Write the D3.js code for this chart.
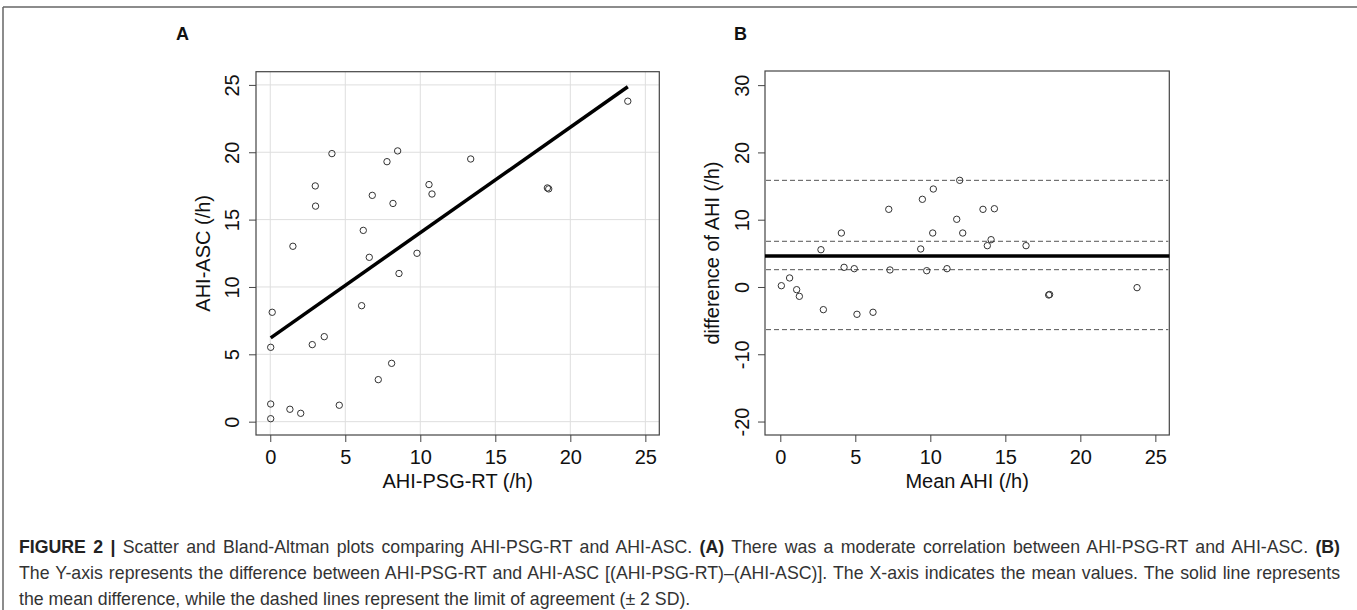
<!DOCTYPE html>
<html><head><meta charset="utf-8">
<script src="https://cdn.jsdelivr.net/npm/d3@7"></script>
<style>
html,body{margin:0;padding:0;background:#fff;}
svg text{font-family:"Liberation Sans",Arial,Helvetica,sans-serif;}
</style></head>
<body>
<svg id="fig" width="1357" height="610"></svg>
<script>
// ---------- Data ----------
// Panel A: AHI-PSG-RT (x) vs AHI-ASC (y)
const psgRT = [0.13,1.51,3.0,3.02,4.11,6.09,6.2,6.6,6.8,7.78,8.49,8.18,8.58,9.78,10.58,10.78,13.36,
               0.03,2.8,3.6,8.09,7.2,0.03,1.31,2.03,4.6,0.03,18.47,18.56,23.83];
const asc   = [8.12,13.02,17.5,16.0,19.9,8.61,14.2,12.2,16.8,19.3,20.1,16.2,11.0,12.5,17.6,16.9,19.5,
               5.52,5.72,6.31,4.33,3.12,1.31,0.92,0.62,1.22,0.22,17.35,17.28,23.79];
// regression line (intercept, slope)
const fitIntercept = 6.2;
const fitSlope = 0.783;
// Panel B: Bland-Altman mean vs difference
const meanAHI = [0.07,0.62,1.09,1.27,2.87,2.71,4.07,4.25,4.93,5.11,6.18,7.23,7.31,9.47,9.36,10.2,10.16,
                 9.76,11.11,11.96,11.76,12.16,13.51,14.27,14.05,13.8,16.38,17.89,17.95,23.78];
const diffAHI = [0.19,1.34,-0.4,-1.39,-3.37,5.54,8.02,2.92,2.72,-4.06,-3.76,11.54,2.53,13.03,5.65,14.56,8.02,
                 2.42,2.72,15.85,10.06,8.02,11.54,11.63,7.03,6.14,6.14,-1.19,-1.12,-0.1];
const meanDiff = 4.6;
const dashedLevels = [15.85, 6.79, 2.57, -6.34];
// tick labels
const ticksA = [0,5,10,15,20,25];
const ticksBx = [0,5,10,15,20,25];
const ticksBy = [-20,-10,0,10,20,30];

const captionLines = [
  [{t:"FIGURE 2 |",b:true},{t:" Scatter and Bland-Altman plots comparing AHI-PSG-RT and AHI-ASC. "},{t:"(A)",b:true},{t:" There was a moderate correlation between AHI-PSG-RT and AHI-ASC. "},{t:"(B)",b:true}],
  [{t:"The Y-axis represents the difference between AHI-PSG-RT and AHI-ASC [(AHI-PSG-RT)–(AHI-ASC)]. The X-axis indicates the mean values. The solid line represents"}],
  [{t:"the mean difference, while the dashed lines represent the limit of agreement (± 2 SD)."}]
];

// ---------- Drawing ----------
const svg = d3.select("#fig");
const FS = 20;
const fmt = d => String(d);

// frame border
svg.append("line").attr("x1",3).attr("x2",1357).attr("y1",7).attr("y2",7).attr("stroke","#666").attr("stroke-width",1.5);
svg.append("line").attr("x1",3).attr("x2",3).attr("y1",7).attr("y2",610).attr("stroke","#666").attr("stroke-width",1.5);

function panel(cfg){
  const g = svg.append("g");
  const x = cfg.x, y = cfg.y;
  const [x0,x1] = x.range(), [y0,y1] = y.range();
  if (cfg.grid){
    g.append("g").selectAll("line").data(cfg.xt).join("line")
      .attr("x1",d=>x(d)).attr("x2",d=>x(d)).attr("y1",y0).attr("y2",y1)
      .attr("stroke","#dedede").attr("stroke-width",1);
    g.append("g").selectAll("line").data(cfg.yt).join("line")
      .attr("y1",d=>y(d)).attr("y2",d=>y(d)).attr("x1",x0).attr("x2",x1)
      .attr("stroke","#dedede").attr("stroke-width",1);
  }
  // x axis
  const ax = g.append("g").attr("transform",`translate(0,${y0})`)
    .call(d3.axisBottom(x).tickValues(cfg.xt).tickSize(7).tickFormat(fmt));
  ax.select(".domain").remove();
  ax.selectAll(".tick line").attr("stroke","#444");
  ax.selectAll(".tick text").attr("y",29).attr("dy",0).attr("font-size",FS).attr("fill","#111")
    .attr("font-family","Liberation Sans, Arial, sans-serif");
  // y axis
  const ay = g.append("g").attr("transform",`translate(${x0},0)`)
    .call(d3.axisLeft(y).tickValues(cfg.yt).tickSize(7).tickFormat(fmt));
  ay.select(".domain").remove();
  ay.selectAll(".tick line").attr("stroke","#444");
  ay.selectAll(".tick text").attr("x",0).attr("dy",0).attr("text-anchor","middle")
    .attr("transform",`translate(${-cfg.ylabOff},0) rotate(-90)`)
    .attr("font-size",FS).attr("fill","#111").attr("font-family","Liberation Sans, Arial, sans-serif");
  // box
  g.append("rect").attr("x",x0).attr("y",y1).attr("width",x1-x0).attr("height",y0-y1)
    .attr("fill","none").attr("stroke","#444").attr("stroke-width",1.2);
  // titles
  g.append("text").attr("x",(x0+x1)/2).attr("y",488).attr("text-anchor","middle")
    .attr("font-size",FS).attr("fill","#111").text(cfg.xTitle);
  g.append("text").attr("transform",`translate(${cfg.yTitleX},${(y0+y1)/2}) rotate(-90)`)
    .attr("text-anchor","middle").attr("font-size",FS).attr("fill","#111").text(cfg.yTitle);
  // panel letter
  g.append("text").attr("x",cfg.letterX).attr("y",40).attr("font-size",18).attr("font-weight","bold")
    .attr("fill","#111").text(cfg.letter);
  return g;
}

// Panel A
const xA = d3.scaleLinear().domain([-0.95,25.93]).range([256,659.3]);
const yA = d3.scaleLinear().domain([-0.99,25.98]).range([435,71.7]);
const gA = panel({x:xA,y:yA,xt:ticksA,yt:ticksA,grid:true,ylabOff:17,
  xTitle:"AHI-PSG-RT (/h)",yTitle:"AHI-ASC (/h)",yTitleX:210,letter:"A",letterX:176});
const xMin = d3.min(psgRT), xMax = d3.max(psgRT);
gA.append("line").attr("x1",xA(xMin)).attr("y1",yA(fitIntercept+fitSlope*xMin))
  .attr("x2",xA(xMax)).attr("y2",yA(fitIntercept+fitSlope*xMax))
  .attr("stroke","#000").attr("stroke-width",3.5);
gA.append("g").selectAll("circle").data(d3.range(psgRT.length)).join("circle")
  .attr("cx",i=>xA(psgRT[i])).attr("cy",i=>yA(asc[i])).attr("r",3.2)
  .attr("fill","none").attr("stroke","#333").attr("stroke-width",1);

// Panel B
const xB = d3.scaleLinear().domain([-1.02,25.93]).range([765,1169.3]);
const yB = d3.scaleLinear().domain([-22.0,32.1]).range([435,71]);
const gB = panel({x:xB,y:yB,xt:ticksBx,yt:ticksBy,grid:false,ylabOff:16.5,
  xTitle:"Mean AHI (/h)",yTitle:"difference of AHI (/h)",yTitleX:719,letter:"B",letterX:734});
gB.append("g").selectAll("line").data(dashedLevels).join("line")
  .attr("x1",xB.range()[0]+1).attr("x2",xB.range()[1]-1).attr("y1",d=>yB(d)).attr("y2",d=>yB(d))
  .attr("stroke","#555").attr("stroke-width",1).attr("stroke-dasharray","5,3");
gB.append("line").attr("x1",xB.range()[0]).attr("x2",xB.range()[1]).attr("y1",yB(meanDiff)).attr("y2",yB(meanDiff))
  .attr("stroke","#000").attr("stroke-width",3.5);
gB.append("g").selectAll("circle").data(d3.range(meanAHI.length)).join("circle")
  .attr("cx",i=>xB(meanAHI[i])).attr("cy",i=>yB(diffAHI[i])).attr("r",3.2)
  .attr("fill","none").attr("stroke","#333").attr("stroke-width",1);

// Caption
const capX = 19, capRight = 1340, line3Right = 802, capBase = [553,579,605];
const texts = captionLines.map((line,li)=>{
  const t = svg.append("text").attr("x",capX).attr("y",capBase[li]).attr("font-size",16).attr("fill","#333");
  line.forEach(seg=>{
    t.append("tspan").attr("font-weight",seg.b?"bold":"normal").attr("fill",seg.b?"#222":"#333").text(seg.t);
  });
  return t;
});
const w16 = texts.map(t=>t.node().getComputedTextLength());
const capFS = 16*Math.min((line3Right-capX)/w16[2], (capRight-capX-20)/w16[0], (capRight-capX-20)/w16[1]);
texts.forEach(t=>t.attr("font-size",capFS));
[0,1].forEach(li=>{
  const t = texts[li];
  const w = t.node().getComputedTextLength();
  const spaces = captionLines[li].map(s=>s.t).join("").split(" ").length-1;
  t.attr("word-spacing",(capRight-capX-w)/spaces);
});
</script>
</body></html>
